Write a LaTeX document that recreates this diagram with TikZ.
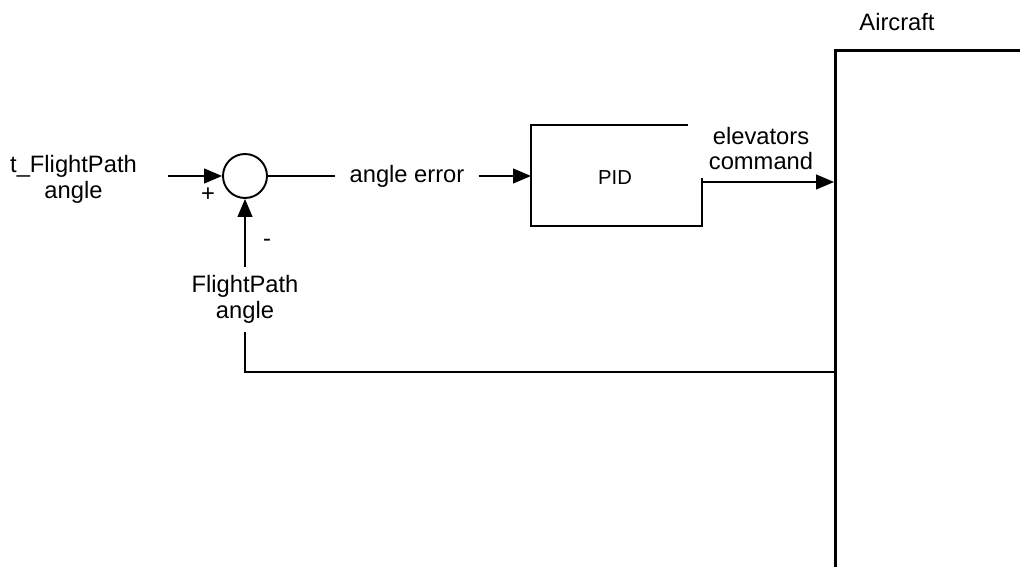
\documentclass[tikz,border=0pt]{standalone}
\usepackage{fontspec}
\setmainfont{Liberation Sans}
\usepackage{tikz}
\usetikzlibrary{arrows.meta, positioning}

\begin{document}
\begin{tikzpicture}[
	txt/.style={align=center, inner sep=5pt, font=\fontsize{13.5}{14.5}\selectfont},
	wire/.style={line width=0.7pt},
	sig/.style={wire, -{Triangle[length=0.36cm, width=0.3cm]}},
	sumnode/.style={circle, draw, line width=1.1pt, minimum size=0.88cm, inner sep=0pt},
	pidline/.style={line width=1.3pt},
	plant/.style={draw, line width=1.8pt, anchor=north west, minimum width=6cm, minimum height=14cm}
]
	% Paths, nodes and wires:
	\clip (0, 0) rectangle (20.4, 11.34);
	\node[sumnode](S1) at (4.9, 7.82){};
	\node[txt](N1) at (1.47, 7.75){t\_FlightPath\\angle};
	\coordinate (C1) at (3.36, 7.82);
	\draw[sig] (C1) -- (S1);
	\node[txt, inner sep=0pt](N2) at (4.16, 7.44){+};
	\node[txt, inner sep=0pt](N3) at (5.34, 6.48){-};
	\node[txt](N4) at (4.9, 5.35){FlightPath\\angle};
	\draw[sig] (N4) -- (S1);
	\node[txt, inner xsep=0.28cm](N5) at (8.14, 7.82){angle error};
	\draw[wire] (S1) -- (N5);
	\coordinate (P1) at (10.62, 8.84);
	\coordinate (P2) at (13.76, 8.84);
	\coordinate (P3) at (14.04, 6.82);
	\coordinate (P4) at (14.04, 7.78);
	\coordinate (P5) at (14.04, 7.70);
	\draw[pidline] (P2) -- (P1) |- (P3) -- (P4);
	\node[txt, font=\fontsize{11.5}{13}\selectfont](N6) at (12.3, 7.78){PID};
	\draw[sig] (N5) -- (N5 -| P1);
	\node[plant](A1) at (16.68, 10.36){};
	\node[txt](N7) at (17.94, 10.9){Aircraft};
	\node[txt](N8) at (15.22, 8.37){elevators\\command};
	\draw[sig] (P5) -- (P5 -| A1.west);
	\coordinate (C2) at (4.9, 3.9);
	\draw[wire] (N4) -- (C2) -- (C2 -| A1.west);
\end{tikzpicture}
\end{document}
